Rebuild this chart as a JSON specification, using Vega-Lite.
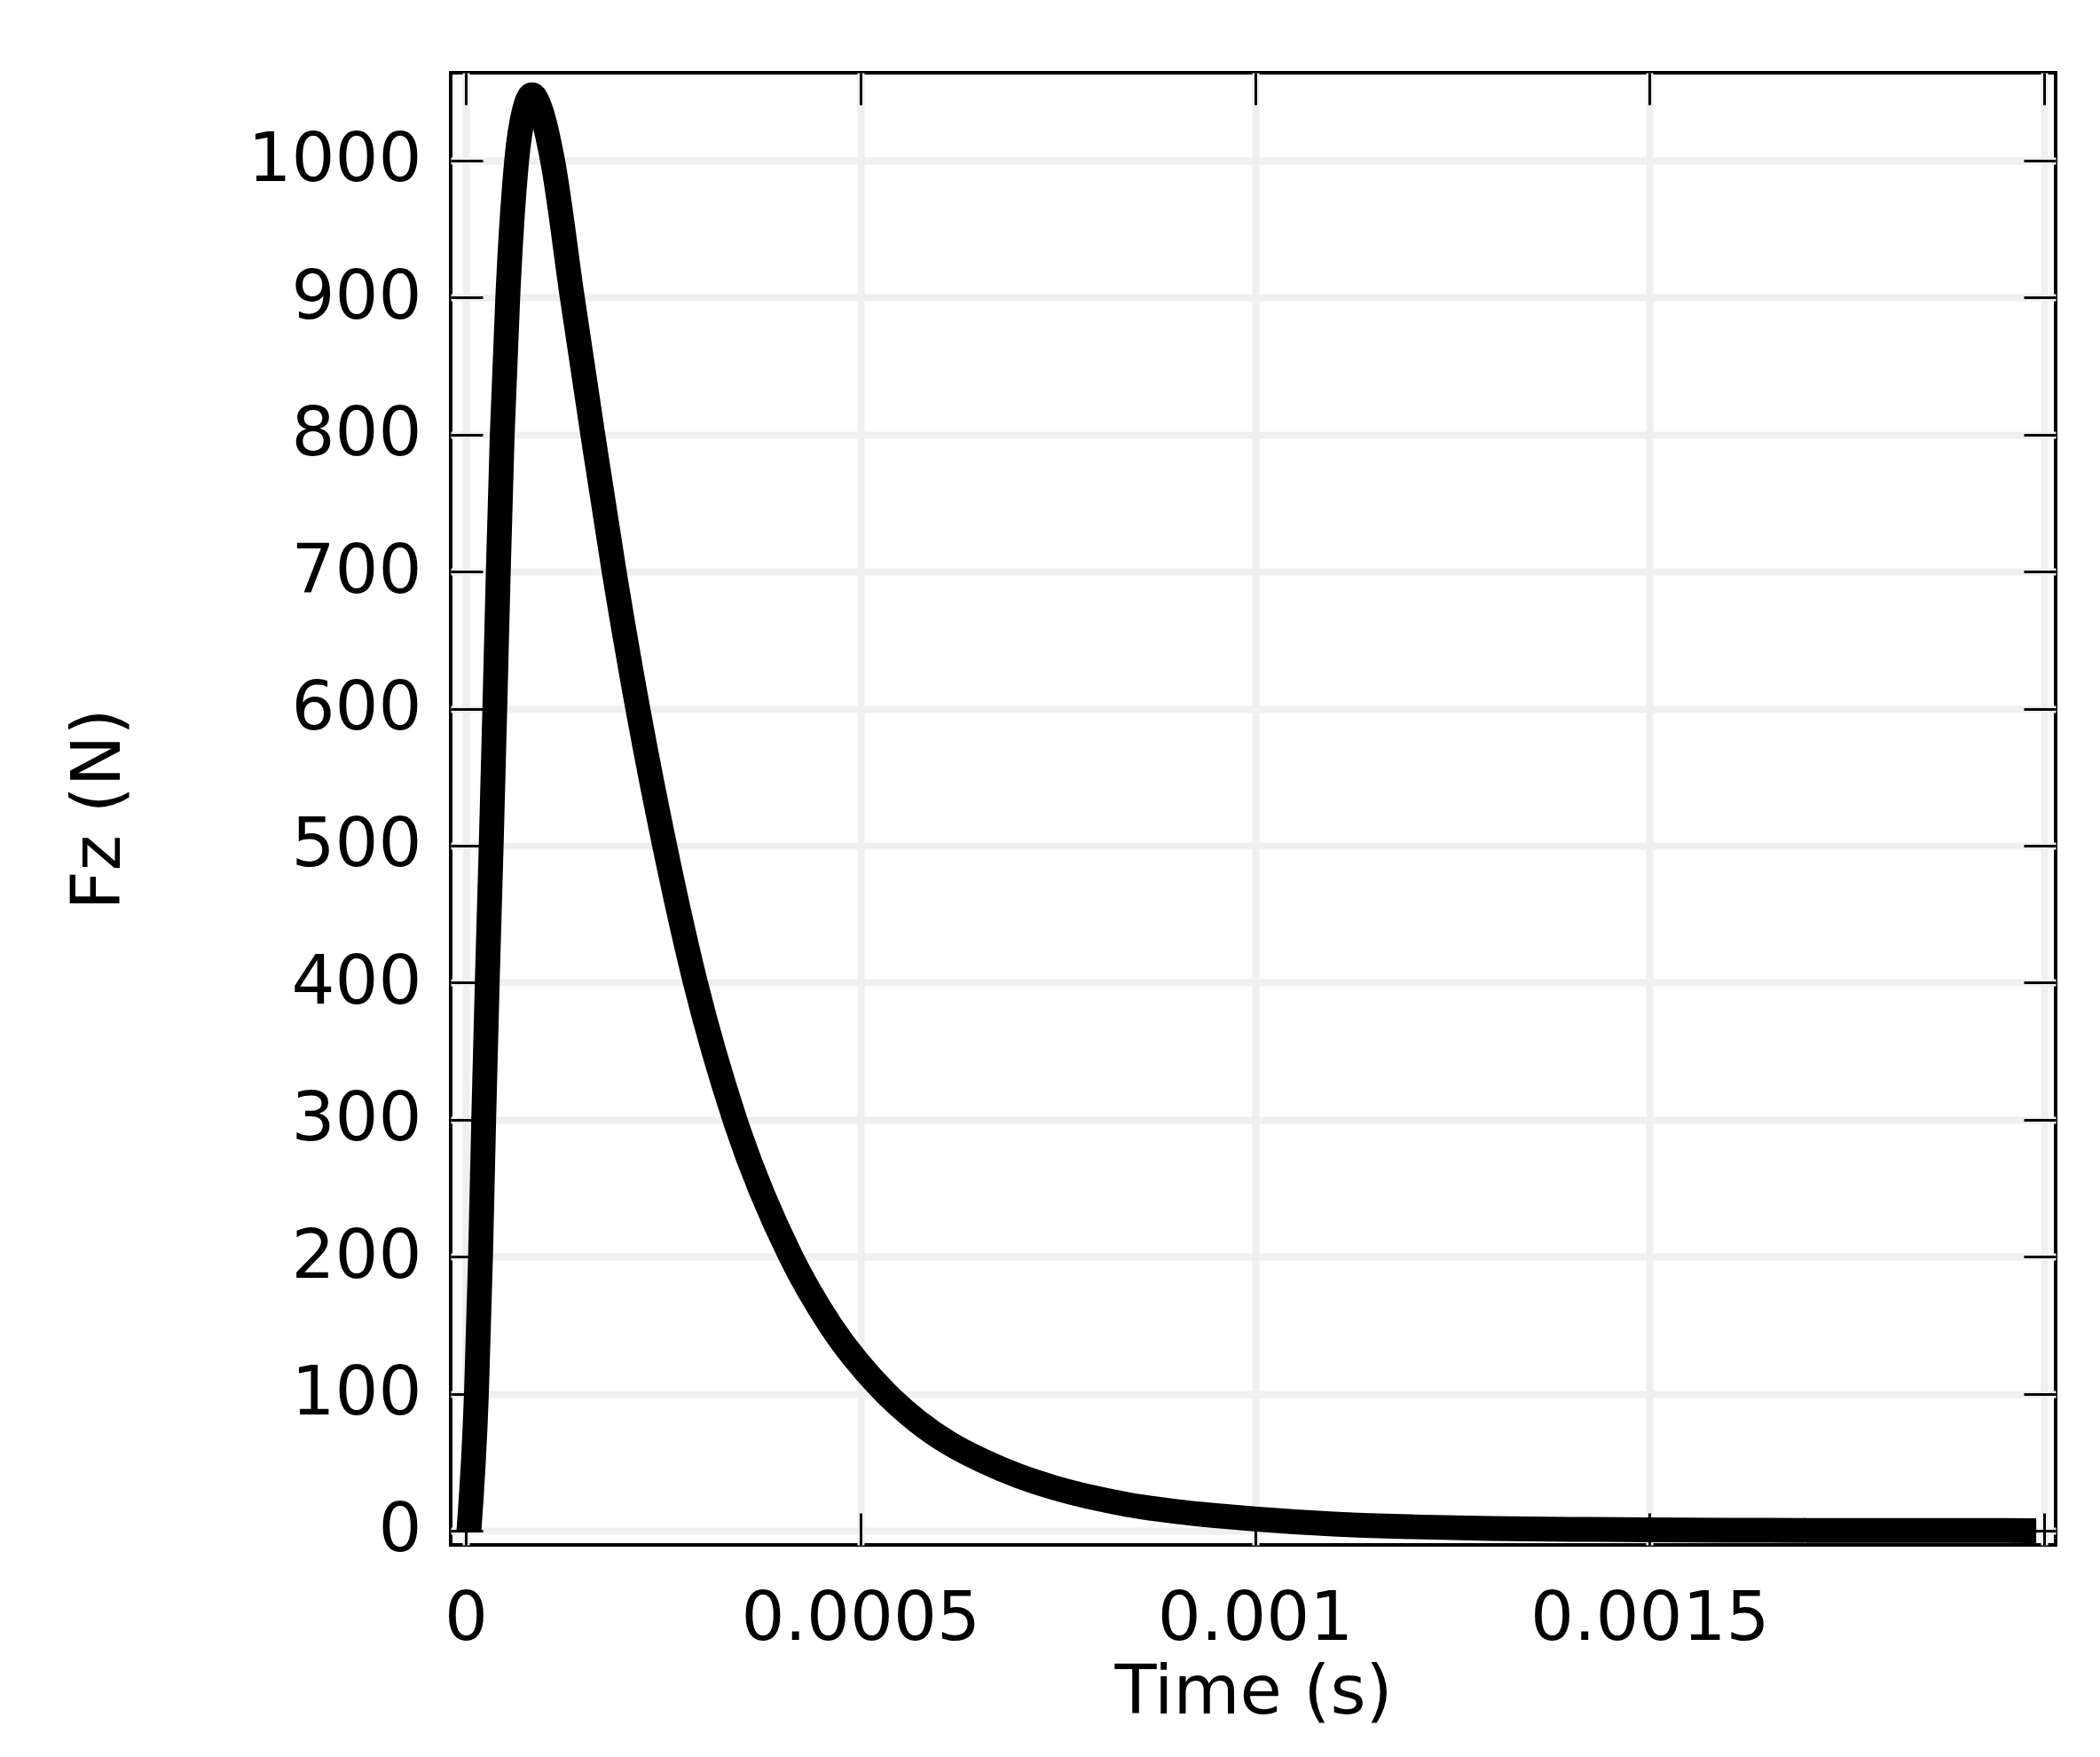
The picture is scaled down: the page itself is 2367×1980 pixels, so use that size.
{
  "$schema": "https://vega.github.io/schema/vega-lite/v6.json",
  "width": 1809,
  "height": 1659,
  "autosize": "none",
  "padding": {"left": 508, "top": 82, "right": 50, "bottom": 239},
  "background": "white",
  "config": {
    "view": {"stroke": "black", "strokeWidth": 4},
    "axis": {
      "labelFont": "DejaVu Sans",
      "labelFontSize": 77,
      "labelColor": "black",
      "labelLimit": 1000,
      "titleFont": "DejaVu Sans",
      "titleFontSize": 77,
      "titleFontWeight": "normal",
      "titleColor": "black",
      "domain": false,
      "tickColor": "black",
      "tickWidth": 3,
      "tickSize": -36,
      "gridColor": "#efefef",
      "gridWidth": 8
    }
  },
  "data": {
    "values": [
      {"t": 0.000004, "F": 0},
      {"t": 0.0000135, "F": 100},
      {"t": 0.0000187, "F": 200},
      {"t": 0.0000227, "F": 300},
      {"t": 0.0000272, "F": 400},
      {"t": 0.0000322, "F": 500},
      {"t": 0.0000368, "F": 600},
      {"t": 0.0000412, "F": 700},
      {"t": 0.0000462, "F": 800},
      {"t": 0.0000532, "F": 900},
      {"t": 0.0000645, "F": 1000},
      {"t": 0.000074, "F": 1036},
      {"t": 0.000084, "F": 1048},
      {"t": 0.000095, "F": 1037},
      {"t": 0.00011, "F": 1000},
      {"t": 0.000135, "F": 900},
      {"t": 0.000161, "F": 800},
      {"t": 0.000188, "F": 700},
      {"t": 0.000218, "F": 600},
      {"t": 0.000252, "F": 500},
      {"t": 0.000291, "F": 400},
      {"t": 0.000341, "F": 300},
      {"t": 0.000412, "F": 200},
      {"t": 0.000462, "F": 150},
      {"t": 0.000533, "F": 100},
      {"t": 0.000572, "F": 80},
      {"t": 0.000612, "F": 64},
      {"t": 0.000655, "F": 51},
      {"t": 0.0007, "F": 40},
      {"t": 0.000745, "F": 31.5},
      {"t": 0.0008, "F": 23.5},
      {"t": 0.00086, "F": 17},
      {"t": 0.0009, "F": 14},
      {"t": 0.00095, "F": 11},
      {"t": 0.001, "F": 8.5},
      {"t": 0.0011, "F": 4.8},
      {"t": 0.0012, "F": 2.8},
      {"t": 0.0013, "F": 1.6},
      {"t": 0.0014, "F": 1.0},
      {"t": 0.0015, "F": 0.6},
      {"t": 0.0016, "F": 0.35},
      {"t": 0.0017, "F": 0.2},
      {"t": 0.0018, "F": 0.12},
      {"t": 0.0019, "F": 0.07},
      {"t": 0.00199, "F": 0.04}
    ]
  },
  "layer": [
    {
      "mark": {"type": "line", "color": "black", "strokeWidth": 28, "strokeJoin": "miter", "strokeCap": "butt", "interpolate": "monotone"},
      "encoding": {
        "x": {
          "field": "t", "type": "quantitative",
          "scale": {"domain": [-0.0000191, 0.0020146], "nice": false, "zero": false},
          "axis": {
            "orient": "bottom",
            "title": "Time (s)",
            "values": [0, 0.0005, 0.001, 0.0015, 0.002],
            "format": "~g",
            "labelExpr": "datum.value > 0.0019 ? '' : datum.label",
            "labelPadding": 81,
            "titlePadding": 7,
            "grid": true
          }
        },
        "y": {
          "field": "F", "type": "quantitative",
          "scale": {"domain": [-10.4, 1064.1], "nice": false, "zero": false},
          "axis": {
            "orient": "left",
            "title": "Fz (N)",
            "values": [0, 100, 200, 300, 400, 500, 600, 700, 800, 900, 1000],
            "format": "d",
            "labelPadding": 69,
            "titlePadding": 158,
            "grid": true
          }
        }
      }
    },
    {
      "mark": {"type": "line", "opacity": 0},
      "encoding": {
        "x": {
          "field": "t", "type": "quantitative",
          "axis": {
            "orient": "top",
            "title": null,
            "values": [0, 0.0005, 0.001, 0.0015, 0.002],
            "labels": false,
            "grid": false
          }
        },
        "y": {
          "field": "F", "type": "quantitative",
          "axis": {
            "orient": "right",
            "title": null,
            "values": [0, 100, 200, 300, 400, 500, 600, 700, 800, 900, 1000],
            "labels": false,
            "grid": false
          }
        }
      }
    }
  ],
  "resolve": {"axis": {"x": "independent", "y": "independent"}}
}
